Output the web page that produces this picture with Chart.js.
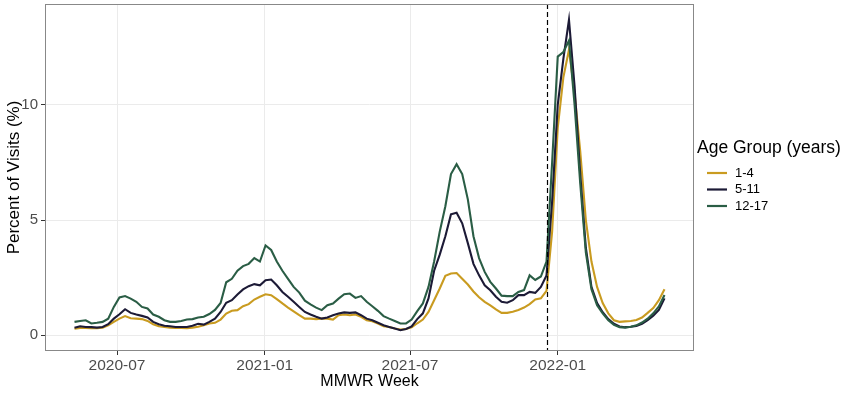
<!DOCTYPE html>
<html>
<head>
<meta charset="utf-8">
<script src="https://cdn.jsdelivr.net/npm/chart.js@4.4.1/dist/chart.umd.min.js"></script>
<style>
  html, body { margin: 0; padding: 0; background: #fff; }
</style>
</head>
<body>
<canvas id="chart" width="850" height="394"></canvas>
<script>
// MMWR weeks (week ending dates)
const weeks = [
  '2020-05-09','2020-05-16','2020-05-23','2020-05-30','2020-06-06','2020-06-13','2020-06-20','2020-06-27',
  '2020-07-04','2020-07-11','2020-07-18','2020-07-25','2020-08-01','2020-08-08','2020-08-15','2020-08-22',
  '2020-08-29','2020-09-05','2020-09-12','2020-09-19','2020-09-26','2020-10-03','2020-10-10','2020-10-17',
  '2020-10-24','2020-10-31','2020-11-07','2020-11-14','2020-11-21','2020-11-28','2020-12-05','2020-12-12',
  '2020-12-19','2020-12-26','2021-01-02','2021-01-09','2021-01-16','2021-01-23','2021-01-30','2021-02-06',
  '2021-02-13','2021-02-20','2021-02-27','2021-03-06','2021-03-13','2021-03-20','2021-03-27','2021-04-03',
  '2021-04-10','2021-04-17','2021-04-24','2021-05-01','2021-05-08','2021-05-15','2021-05-22','2021-05-29',
  '2021-06-05','2021-06-12','2021-06-19','2021-06-26','2021-07-03','2021-07-10','2021-07-17','2021-07-24',
  '2021-07-31','2021-08-07','2021-08-14','2021-08-21','2021-08-28','2021-09-04','2021-09-11','2021-09-18',
  '2021-09-25','2021-10-02','2021-10-09','2021-10-16','2021-10-23','2021-10-30','2021-11-06','2021-11-13',
  '2021-11-20','2021-11-27','2021-12-04','2021-12-11','2021-12-18','2021-12-25','2022-01-01','2022-01-08',
  '2022-01-15','2022-01-22','2022-01-29','2022-02-05','2022-02-12','2022-02-19','2022-02-26','2022-03-05',
  '2022-03-12','2022-03-19','2022-03-26','2022-04-02','2022-04-09','2022-04-16','2022-04-23','2022-04-30',
  '2022-05-07','2022-05-14'
];

const ageGroups = ['1-4', '5-11', '12-17'];

// percent of visits, per age group
const age1to4 = [
  0.28,0.32,0.32,0.30,0.30,0.33,0.43,0.58,0.72,0.83,0.74,0.72,0.70,0.62,0.48,0.39,
  0.36,0.33,0.32,0.32,0.30,0.33,0.37,0.43,0.51,0.54,0.68,0.94,1.06,1.09,1.26,1.35,
  1.55,1.67,1.78,1.74,1.57,1.38,1.20,1.04,0.87,0.72,0.72,0.70,0.72,0.72,0.68,0.87,
  0.90,0.87,0.90,0.80,0.65,0.61,0.51,0.39,0.36,0.29,0.25,0.27,0.34,0.52,0.68,1.01,
  1.52,2.03,2.58,2.68,2.70,2.45,2.20,1.90,1.65,1.45,1.30,1.12,0.97,0.97,1.02,1.10,
  1.20,1.35,1.55,1.60,1.93,4.50,9.00,11.2,12.4,10.5,8.00,5.00,3.20,2.10,1.40,0.95,
  0.65,0.58,0.60,0.62,0.66,0.77,0.97,1.18,1.52,2.00
];
const age5to11 = [
  0.32,0.39,0.36,0.35,0.33,0.36,0.48,0.72,0.91,1.13,0.97,0.90,0.84,0.77,0.58,0.48,
  0.41,0.39,0.36,0.36,0.36,0.41,0.50,0.46,0.58,0.72,1.01,1.41,1.52,1.77,1.99,2.13,
  2.22,2.17,2.39,2.42,2.17,1.88,1.67,1.45,1.23,1.01,0.90,0.80,0.72,0.77,0.87,0.94,
  0.99,0.97,0.99,0.87,0.72,0.65,0.54,0.43,0.36,0.29,0.22,0.27,0.38,0.70,0.95,1.60,
  2.80,3.50,4.30,5.25,5.32,4.86,4.00,3.10,2.60,2.17,1.95,1.67,1.45,1.41,1.52,1.74,
  1.74,1.88,1.84,2.10,2.60,5.80,10.0,12.0,13.7,10.8,7.00,3.80,2.10,1.40,1.00,0.70,
  0.50,0.38,0.35,0.37,0.40,0.50,0.65,0.85,1.10,1.60
];
const age12to17 = [
  0.58,0.62,0.65,0.51,0.54,0.58,0.72,1.23,1.64,1.70,1.59,1.45,1.23,1.16,0.90,0.80,
  0.65,0.58,0.58,0.62,0.68,0.70,0.77,0.80,0.92,1.10,1.40,2.30,2.45,2.80,3.00,3.10,
  3.35,3.20,3.90,3.70,3.20,2.80,2.45,2.10,1.85,1.50,1.34,1.20,1.09,1.30,1.38,1.59,
  1.78,1.81,1.62,1.70,1.45,1.26,1.06,0.83,0.72,0.62,0.51,0.51,0.68,1.05,1.38,2.10,
  3.20,4.50,5.60,7.00,7.43,7.00,5.90,4.30,3.35,2.75,2.32,2.03,1.72,1.70,1.70,1.88,
  1.96,2.60,2.40,2.55,3.20,7.50,12.1,12.3,12.8,10.0,6.60,3.60,2.00,1.30,0.95,0.65,
  0.45,0.35,0.33,0.37,0.43,0.55,0.72,0.95,1.25,1.75
];

const xTickDates = ['2020-07-01', '2021-01-01', '2021-07-01', '2022-01-01'];
const yTicks = [0, 5, 10];
const markerDate = '2021-12-19';

const seriesColors = ['#C99B20', '#1C1A36', '#2A5D45'];
const FONT = "'Liberation Sans', Arial, sans-serif";

function toTime(s) { return Date.parse(s + 'T00:00:00Z'); }
function monthLabel(v) {
  const d = new Date(v);
  return d.getUTCFullYear() + '-' + String(d.getUTCMonth() + 1).padStart(2, '0');
}

const times = weeks.map(toTime);
const span = times[times.length - 1] - times[0];
const allValues = age1to4.concat(age5to11, age12to17);
const yMaxData = Math.max(...allValues);
const yRange = yMaxData - 0;

function pts(values) {
  return values.map((v, i) => ({ x: times[i], y: v }));
}

// panel border + dashed marker line
const panelPlugin = {
  id: 'panel',
  afterDatasetsDraw(chart) {
    const { ctx, chartArea: { left, right, top, bottom }, scales } = chart;
    const xm = Math.round(scales.x.getPixelForValue(toTime(markerDate))) + 0.5;
    ctx.save();
    ctx.beginPath();
    ctx.setLineDash([5, 3]);
    ctx.lineWidth = 1.2;
    ctx.strokeStyle = '#000';
    ctx.moveTo(xm, top);
    ctx.lineTo(xm, bottom);
    ctx.stroke();
    ctx.restore();

    ctx.save();
    ctx.lineWidth = 1;
    ctx.strokeStyle = '#888';
    ctx.strokeRect(left + 0.5, top + 0.5, right - left - 1, bottom - top - 1);
    ctx.restore();
  }
};

// legend like the ggplot one
const legendPlugin = {
  id: 'ageLegend',
  afterDraw(chart) {
    const ctx = chart.ctx;
    const x0 = 697;
    ctx.save();
    ctx.fillStyle = '#000';
    ctx.textBaseline = 'middle';
    ctx.textAlign = 'left';
    ctx.font = '17.5px ' + FONT;
    ctx.fillText('Age Group (years)', x0, 148);
    ctx.font = '13px ' + FONT;
    ageGroups.forEach((g, i) => {
      const y = 173 + i * 16.5;
      ctx.beginPath();
      ctx.strokeStyle = seriesColors[i];
      ctx.lineWidth = 2.2;
      ctx.moveTo(x0 + 10, y);
      ctx.lineTo(x0 + 30, y);
      ctx.stroke();
      ctx.fillText(g, x0 + 38, y);
    });
    ctx.restore();
  }
};

const seriesData = [age1to4, age5to11, age12to17];

new Chart(document.getElementById('chart'), {
  type: 'line',
  data: {
    datasets: ageGroups.map((g, i) => ({
      label: g,
      data: pts(seriesData[i]),
      borderColor: seriesColors[i],
      borderWidth: 2.1,
      pointRadius: 0,
      tension: 0,
      fill: false,
      order: 3 - i
    }))
  },
  options: {
    responsive: false,
    animation: false,
    events: [],
    layout: { padding: { top: 4, right: 156, bottom: 0, left: 0 } },
    plugins: { legend: { display: false }, tooltip: { enabled: false } },
    scales: {
      x: {
        type: 'linear',
        min: times[0] - span * 0.05,
        max: times[times.length - 1] + span * 0.05,
        afterBuildTicks: s => { s.ticks = xTickDates.map(d => ({ value: toTime(d) })); },
        afterFit: s => { s.height = 43; s.paddingLeft = 0; s.paddingRight = 0; },
        ticks: {
          callback: v => monthLabel(v),
          autoSkip: false, maxRotation: 0,
          color: '#4D4D4D', font: { family: FONT, size: 15.5 }, padding: 1
        },
        grid: { color: '#EBEBEB', lineWidth: 1, tickColor: '#333', tickLength: 4 },
        border: { display: false },
        title: {
          display: true, text: 'MMWR Week', color: '#000',
          font: { family: FONT, size: 16 }, padding: { top: 0, bottom: 3 }
        }
      },
      y: {
        type: 'linear',
        min: 0 - yRange * 0.05,
        max: yMaxData + yRange * 0.05,
        afterBuildTicks: s => { s.ticks = yTicks.map(v => ({ value: v })); },
        afterFit: s => { s.width = 45; s.paddingTop = 0; s.paddingBottom = 0; },
        ticks: { color: '#4D4D4D', font: { family: FONT, size: 15 }, padding: 3 },
        grid: { color: '#EBEBEB', lineWidth: 1, tickColor: '#333', tickLength: 4 },
        border: { display: false },
        title: {
          display: true, text: 'Percent of Visits (%)', color: '#000',
          font: { family: FONT, size: 17 }, padding: { top: 4, bottom: 0 }
        }
      }
    }
  },
  plugins: [panelPlugin, legendPlugin]
});
</script>
</body>
</html>
